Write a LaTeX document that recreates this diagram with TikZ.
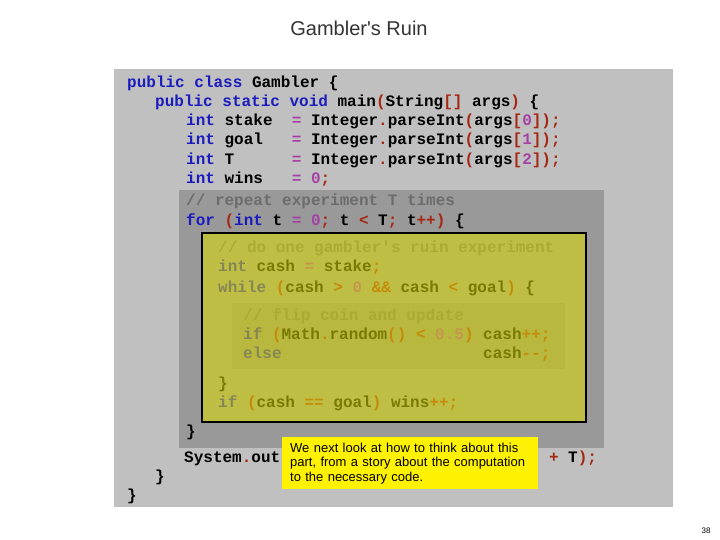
\documentclass[tikz,border=0pt]{standalone}
\usepackage{fontspec}
\setmonofont{Liberation Mono}
\newfontfamily\slidefont{Liberation Sans}
\definecolor{slidegrey}{RGB}{192,192,192}
\definecolor{loopgrey}{RGB}{153,153,153}
\definecolor{bodygrey}{RGB}{138,138,138}
\definecolor{fadeyellow}{RGB}{222,222,0}
\definecolor{jblue}{RGB}{28,28,190}
\definecolor{jred}{RGB}{165,40,20}
\definecolor{jpurple}{RGB}{165,65,165}
\definecolor{jgrey}{RGB}{108,108,108}
\newcommand\jkey[1]{\textcolor{jblue}{#1}}
\newcommand\jsym[1]{\textcolor{jred}{#1}}
\newcommand\jnum[1]{\textcolor{jpurple}{#1}}
\newcommand\jrem[1]{\textcolor{jgrey}{#1}}
\tikzset{
  codeline/.style={anchor=base west,inner sep=0pt,
    font=\ttfamily\bfseries\fontsize{16bp}{19bp}\selectfont},
  notebox/.style={anchor=north west,fill=yellow,minimum width=256bp,
    minimum height=52bp,text width=240bp,inner xsep=8bp,inner ysep=0pt,
    align=left,font=\slidefont\fontsize{13bp}{14.5bp}\selectfont}
}
\begin{document}
\begin{tikzpicture}[x=1bp,y=-1bp]
\useasboundingbox (0,0) rectangle (720,540);
\node[font=\slidefont\fontsize{20bp}{24bp}\selectfont,text=black!80] (title) at (359,28) {Gambler's Ruin};
% nested blocks of the program
\fill[slidegrey] (114,69) rectangle +(559,438);
\fill[loopgrey] (179,190) rectangle +(425,258);
\fill[bodygrey] (232,303) rectangle +(333,66);
\node[codeline] (l1) at (127,88) {\jkey{public class} Gambler \{};
\node[codeline] (l2) at (155,107) {\jkey{public static void} main\jsym{(}String\jsym{[]} args\jsym{)} \{};
\node[codeline] (l3) at (186,126) {\jkey{int} stake~~\jnum{=} Integer\jsym{.}parseInt\jsym{(}args\jsym{[}\jnum{0}\jsym{]);}};
\node[codeline] (l4) at (186,145) {\jkey{int} goal~~~\jnum{=} Integer\jsym{.}parseInt\jsym{(}args\jsym{[}\jnum{1}\jsym{]);}};
\node[codeline] (l5) at (186,165) {\jkey{int} T~~~~~~\jnum{=} Integer\jsym{.}parseInt\jsym{(}args\jsym{[}\jnum{2}\jsym{]);}};
\node[codeline] (l6) at (186,184) {\jkey{int} wins~~~\jnum{= 0}\jsym{;}};
\node[codeline] (l7) at (186,206) {\jrem{// repeat experiment T times}};
\node[codeline] (l8) at (186,226) {\jkey{for} \jsym{(}\jkey{int} t \jnum{= 0}\jsym{;} t \jsym{<} T\jsym{;} t\jsym{++)} \{};
\node[codeline] (l9) at (218,253) {\jrem{// do one gambler's ruin experiment}};
\node[codeline] (l10) at (218,272) {\jkey{int} cash \jnum{=} stake\jsym{;}};
\node[codeline] (l11) at (218,292) {\jkey{while} \jsym{(}cash \jsym{>} \jnum{0} \jsym{\&\&} cash \jsym{<} goal\jsym{)} \{};
\node[codeline] (l12) at (243,320) {\jrem{// flip coin and update}};
\node[codeline] (l13) at (243,339) {\jkey{if} \jsym{(}Math\jsym{.}random\jsym{()} \jsym{<} \jnum{0.5}\jsym{)} cash\jsym{++;}};
\node[codeline] (l14) at (243,358) {\jkey{else}~~~~~~~~~~~~~~~~~~~~~cash\jsym{--;}};
\node[codeline] (l15) at (218,388) {\}};
\node[codeline] (l16) at (218,407) {\jkey{if} \jsym{(}cash \jsym{==} goal\jsym{)} wins\jsym{++;}};
\node[codeline] (l17) at (186,436) {\}};
\node[codeline] (l18) at (184,462) {System\jsym{.}out};
\node[codeline] (l18r) at (548.8,462) {\jsym{+} T\jsym{);}};
\node[codeline] (l19) at (155,481) {\}};
\node[codeline] (l20) at (127,500) {\}};
% the loop body, faded out
\filldraw[fill=fadeyellow,fill opacity=.55,line width=1.2bp] (202,233) rectangle +(384,189);
\node[notebox] (note) at (282,437) {We next look at how to think about this\\part, from a story about the computation\\to the necessary code.};
\node[font=\slidefont\fontsize{8bp}{10bp}\selectfont] (page) at (706,531) {38};
\end{tikzpicture}
\end{document}
